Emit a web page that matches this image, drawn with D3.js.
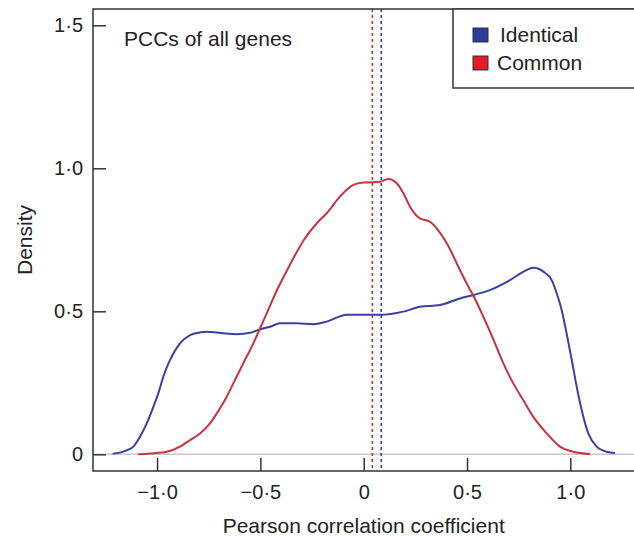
<!DOCTYPE html>
<html>
<head>
<meta charset="utf-8">
<script src="https://cdn.jsdelivr.net/npm/d3@7"></script>
<style>
  body { margin: 0; background: #fff; }
  svg { display: block; font-family: "Liberation Sans", Arial, Helvetica, sans-serif; }
</style>
</head>
<body>
<div id="container"></div>
<script>
// PCC density curves
const identicalX = [-1.215, -1.18, -1.15, -1.115, -1.074, -1.05, -1.018, -0.994, -0.97, -0.937, -0.889, -0.84, -0.792, -0.76,
    -0.679, -0.615, -0.55, -0.502, -0.453, -0.405, -0.324, -0.244, -0.179, -0.082, 0.079, 0.192, 0.272, 0.369, 0.466,
    0.53, 0.611, 0.708, 0.772, 0.822, 0.871, 0.91, 0.934, 0.958, 0.982, 1.007, 1.031, 1.055, 1.087, 1.128, 1.176, 1.216];
const identicalY = [0.002, 0.006, 0.013, 0.027, 0.073, 0.108, 0.166, 0.213, 0.271, 0.33, 0.388, 0.417, 0.426, 0.429,
    0.423, 0.42, 0.425, 0.437, 0.446, 0.458, 0.458, 0.455, 0.464, 0.488, 0.488, 0.499, 0.516, 0.522, 0.545,
    0.557, 0.574, 0.609, 0.638, 0.652, 0.638, 0.609, 0.563, 0.505, 0.423, 0.33, 0.236, 0.155, 0.073, 0.027, 0.009, 0.005];

const commonX = [-1.091, -1.034, -0.953, -0.889, -0.84, -0.792, -0.744, -0.711, -0.663, -0.631, -0.583, -0.534, -0.502,
    -0.462, -0.421, -0.389, -0.341, -0.292, -0.227, -0.179, -0.115, -0.05, -0.002, 0.079, 0.119, 0.16, 0.192, 0.224,
    0.272, 0.321, 0.353, 0.402, 0.426, 0.45, 0.498, 0.53, 0.579, 0.627, 0.676, 0.724, 0.772, 0.821, 0.886, 0.95, 1.014, 1.095];
const commonY = [0, 0.003, 0.009, 0.027, 0.05, 0.073, 0.108, 0.143, 0.201, 0.248, 0.318, 0.388, 0.44,
    0.505, 0.572, 0.618, 0.685, 0.747, 0.808, 0.843, 0.901, 0.942, 0.95, 0.953, 0.963, 0.948, 0.913, 0.866,
    0.825, 0.813, 0.79, 0.738, 0.705, 0.668, 0.598, 0.556, 0.481, 0.403, 0.318, 0.248, 0.19, 0.131, 0.073, 0.027, 0.009, 0.001];

const seriesNames = ['Identical', 'Common'];
const seriesColors = ['#3b3f9f', '#c9323f'];
const legendColors = ['#2b3d98', '#e01c2a'];
const meanLines = [0.085, 0.042];   // identical, common

const xTicks = [-1, -0.5, 0, 0.5, 1];
const xTickLabels = ['\u22121\u00b70', '\u22120\u00b75', '0', '0\u00b75', '1\u00b70'];
const yTicks = [0, 0.5, 1, 1.5];
const yTickLabels = ['0', '0\u00b75', '1\u00b70', '1\u00b75'];

const w = 634, h = 536;
const plotLeft = 93, plotRight = 635, plotTop = 9, plotBottom = 471;

const svg = d3.select('#container').append('svg')
    .attr('width', w)
    .attr('height', h);

const x = d3.scaleLinear().domain([-1.31, 1.313]).range([plotLeft, plotRight]);
const y = d3.scaleLinear().domain([-0.0583, 1.557]).range([plotBottom, plotTop]);

// zero line
svg.append('line')
    .attr('x1', plotLeft).attr('x2', plotRight)
    .attr('y1', y(0)).attr('y2', y(0))
    .attr('stroke', '#c8c8c8')
    .attr('stroke-width', 1.5);

// mean lines
svg.selectAll('.mean')
    .data(meanLines)
    .join('line')
    .attr('class', 'mean')
    .attr('x1', d => x(d)).attr('x2', d => x(d))
    .attr('y1', plotTop).attr('y2', plotBottom)
    .attr('stroke', (d, i) => seriesColors[i])
    .attr('stroke-width', 1.6)
    .attr('stroke-dasharray', '3,3');

const series = [
    identicalX.map((v, i) => [v, identicalY[i]]),
    commonX.map((v, i) => [v, commonY[i]])
];

const line = d3.line()
    .x(d => x(d[0]))
    .y(d => y(d[1]))
    .curve(d3.curveMonotoneX);

svg.selectAll('.curve')
    .data(series)
    .join('path')
    .attr('class', 'curve')
    .attr('d', line)
    .attr('fill', 'none')
    .attr('stroke', (d, i) => seriesColors[i])
    .attr('stroke-width', 2);

// axes with inward ticks
const xAxis = d3.axisBottom(x)
    .tickValues(xTicks)
    .tickFormat((d, i) => xTickLabels[i])
    .tickSizeInner(-13)
    .tickSizeOuter(0)
    .tickPadding(14);

const yAxis = d3.axisLeft(y)
    .tickValues(yTicks)
    .tickFormat((d, i) => yTickLabels[i])
    .tickSizeInner(-13)
    .tickSizeOuter(0)
    .tickPadding(10);

const gx = svg.append('g')
    .attr('transform', `translate(0,${plotBottom})`)
    .call(xAxis);
const gy = svg.append('g')
    .attr('transform', `translate(${plotLeft},0)`)
    .call(yAxis);

[gx, gy].forEach(g => {
    g.select('.domain').remove();
    g.selectAll('line').attr('stroke', '#333').attr('stroke-width', 1.5);
    g.selectAll('text')
        .attr('fill', '#222')
        .style('font-size', '20px')
        .style('font-family', '"Liberation Sans", Arial, sans-serif');
});

// frame
svg.append('rect')
    .attr('x', plotLeft).attr('y', plotTop)
    .attr('width', plotRight - plotLeft).attr('height', plotBottom - plotTop)
    .attr('fill', 'none')
    .attr('stroke', '#333')
    .attr('stroke-width', 1.5);

// titles
svg.append('text')
    .attr('x', x(0))
    .attr('y', 533)
    .attr('text-anchor', 'middle')
    .attr('fill', '#222')
    .style('font-size', '21px')
    .text('Pearson correlation coefficient');

svg.append('text')
    .attr('transform', 'translate(32,240) rotate(-90)')
    .attr('text-anchor', 'middle')
    .attr('fill', '#222')
    .style('font-size', '21px')
    .text('Density');

svg.append('text')
    .attr('x', 124)
    .attr('y', 45.5)
    .attr('fill', '#222')
    .style('font-size', '21px')
    .text('PCCs of all genes');

// legend
const legend = svg.append('g');
legend.append('rect')
    .attr('x', 453).attr('y', plotTop)
    .attr('width', 190).attr('height', 79)
    .attr('fill', '#fff')
    .attr('stroke', '#333')
    .attr('stroke-width', 1.5);

legend.selectAll('.key')
    .data(seriesNames)
    .join('rect')
    .attr('class', 'key')
    .attr('x', 473)
    .attr('y', (d, i) => 28 + i * 28)
    .attr('width', 15).attr('height', 14)
    .attr('fill', (d, i) => legendColors[i])
    .attr('stroke', '#333')
    .attr('stroke-width', 1);

legend.selectAll('.label')
    .data(seriesNames)
    .join('text')
    .attr('class', 'label')
    .attr('x', (d, i) => i === 0 ? 500 : 497)
    .attr('y', (d, i) => 41.7 + i * 28.3)
    .attr('fill', '#222')
    .style('font-size', '21px')
    .text(d => d);
</script>
</body>
</html>
